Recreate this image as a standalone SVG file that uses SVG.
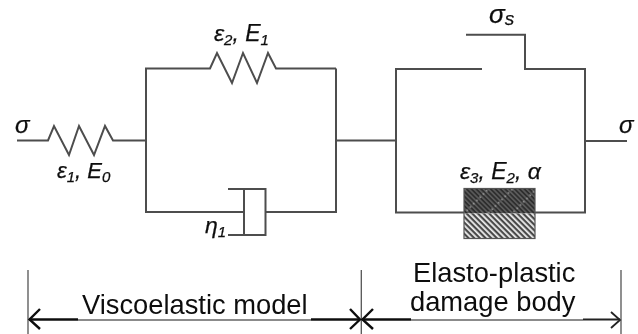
<svg xmlns="http://www.w3.org/2000/svg" width="638" height="334" viewBox="0 0 638 334">
<style>
.w{fill:none;stroke:#4d4d4d;stroke-width:2;stroke-linejoin:miter}
.d{fill:none;stroke:#555;stroke-width:1.3}
.a{fill:none;stroke:#111;stroke-width:2.4}
.n{fill:none;stroke:#666;stroke-width:1.5}
.t{fill:#111;font-family:"Liberation Sans",Arial,sans-serif}
.m{font-size:23px;font-style:italic;stroke:#111;stroke-width:.25}
.s{font-size:15px;font-style:italic}
.l{font-size:27.3px}
</style>
<defs>
<pattern id="h1" width="4" height="4" patternUnits="userSpaceOnUse" patternTransform="rotate(45)"><rect width="4" height="4" fill="#eee"/><rect width="4" height="2.2" fill="#4a4a4a"/></pattern>
<pattern id="h2" width="3.4" height="3.4" patternUnits="userSpaceOnUse" patternTransform="rotate(45)"><rect width="3.4" height="3.4" fill="#5c5c5c"/><rect width="3.4" height="1.8" fill="#2e2e2e"/></pattern>
<pattern id="h3" width="4.6" height="17" patternUnits="userSpaceOnUse" patternTransform="rotate(-45)"><circle cx="2.3" cy="3" r="1" fill="#aaa" opacity=".75"/></pattern>
<filter id="b" x="-5%" y="-5%" width="110%" height="110%"><feGaussianBlur stdDeviation="0.35"/></filter>
</defs>
<g id="connectors" filter="url(#b)">
<path class="w" d="M17 140.5H48L54 126L69 155L79 126L94 155L105 126L113 140.5H146"/>
<path class="w" d="M336 68.5H276L268 53L257 83L243 53L232 83L217 53L210 68.5H146V212H244"/>
<path class="w" d="M266 212H336V68.5"/>
<path class="w" d="M336 140.5H396"/>
<path class="w" d="M482 69H396V212.5H464"/>
<path class="w" d="M466 34.7H525V69H585V212.5H535"/>
<path class="w" d="M585 141H627"/>
</g>
<g id="dashpot" filter="url(#b)"><path class="w" d="M228 189H265.5V235H228M244 189V235"/></g>
<g id="damage-body" filter="url(#b)">
<rect x="464" y="188.5" width="71" height="25" fill="url(#h2)"/>
<rect x="464" y="188.5" width="71" height="25" fill="url(#h3)"/>
<rect x="464" y="213.5" width="71" height="25" fill="url(#h1)"/>
<rect x="464" y="188.5" width="71" height="50" fill="none" stroke="#555" stroke-width="1.2"/>
</g>
<g id="dimensions" filter="url(#b)">
<path class="d" d="M28 270V334M361.300 270V334M621 270V334"/>
<path class="n" d="M78 320H311M411 320H583"/>
<path class="a" d="M29 319.500H78M311 319.500H360M362.500 319.500H411"/>
<path class="a" d="M40 309L29.500 319.500L40 329M350 309L360 319.500L350 329M373 309L362.500 319.500L373 329"/>
<path d="M611 312L620 320L611 328" fill="none" stroke="#222" stroke-width="1.8"/>
<path d="M583 319.500H620" stroke="#222" stroke-width="1.8" fill="none"/>
</g>
<g id="labels" filter="url(#b)">
<g id="sigma-in"><text class="t m" x="15" y="133" style="font-size:24px">σ</text></g>
<g id="spring-0"><text class="t m" x="57" y="178" style="font-size:22px">ε<tspan class="s" dy="4">1</tspan><tspan dy="-4">, E</tspan><tspan class="s" dy="4">0</tspan></text></g>
<g id="spring-1"><text class="t m" x="214" y="41">ε<tspan class="s" dy="4">2</tspan><tspan dy="-4">, E</tspan><tspan class="s" dy="4">1</tspan></text></g>
<g id="eta"><text class="t m" x="205" y="233">η<tspan class="s" dy="4">1</tspan></text></g>
<g id="sigma-s"><text class="t m" x="489" y="23" style="font-size:26px">σ<tspan dy="2" style="font-size:19px">s</tspan></text></g>
<g id="sigma-out"><text class="t m" x="619" y="133" style="font-size:24px">σ</text></g>
<g id="element-3"><text class="t m" x="460" y="179">ε<tspan class="s" dy="4">3</tspan><tspan dy="-4">, E</tspan><tspan class="s" dy="4">2</tspan><tspan dy="-4">, α</tspan></text></g>
<text class="t l" x="82" y="314">Viscoelastic model</text>
<text class="t l" x="413" y="282">Elasto-plastic</text>
<text class="t l" x="410" y="310.500">damage body</text>
</g>
</svg>
